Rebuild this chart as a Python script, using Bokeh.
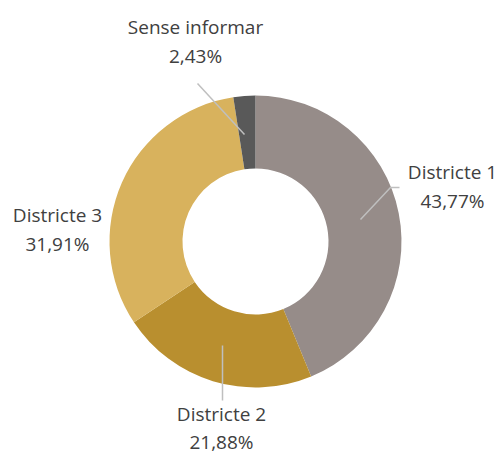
import math
from bokeh.plotting import figure
from bokeh.models import Range1d, ColumnDataSource
from bokeh.core.properties import value
from bokeh.embed import file_html
from bokeh.resources import INLINE

categories = ["Districte 1", "Districte 2", "Districte 3", "Sense informar"]
shares = [43.77, 21.88, 31.91, 2.43]
colors = ["#968C89", "#B98F2F", "#D8B25D", "#595959"]

W, H = 503, 455
p = figure(width=W, height=H, output_backend="svg", toolbar_location=None,
           x_range=Range1d(0, W), y_range=Range1d(0, H), min_border=0)
p.axis.visible = False
p.grid.visible = False
p.outline_line_color = None
p.background_fill_color = "white"

def py(y):
    return H - y

cx, cy = 255, py(241)
r_in, r_out = 73, 146

total = sum(shares)
starts, ends = [], []
a = math.pi / 2
for s in shares:
    starts.append(a)
    a -= s / total * 2 * math.pi
    ends.append(a)

src = ColumnDataSource(dict(start=starts, end=ends, color=colors, cat=categories))
p.annular_wedge(x=cx, y=cy, inner_radius=r_in, outer_radius=r_out,
                start_angle="start", end_angle="end", direction="clock",
                fill_color="color", line_color=None, source=src)

# leader lines (layout)
lead_xs = [[360, 390, 399], [222, 222], [197, 244]]
lead_ys = [[py(219), py(187), py(187)], [py(345), py(400)], [py(83), py(134)]]
p.multi_line(xs=lead_xs, ys=lead_ys, line_color="#BFBFBF", line_width=1.5)

names = categories
pcts = [f"{s:.2f}%".replace(".", ",") for s in shares]
lab_x = [452, 221, 57, 195]
name_y = [py(171), py(413), py(214), py(26)]
pct_y = [py(200), py(441), py(243), py(55)]
common = dict(text_align="center", text_baseline="middle",
              text_font=value("Open Sans"), text_font_size="19px", text_color="#404040")
p.text(x=lab_x, y=name_y, text=names, **common)
p.text(x=lab_x, y=pct_y, text=pcts, **common)

open("out.html", "w").write(file_html(p, INLINE))
